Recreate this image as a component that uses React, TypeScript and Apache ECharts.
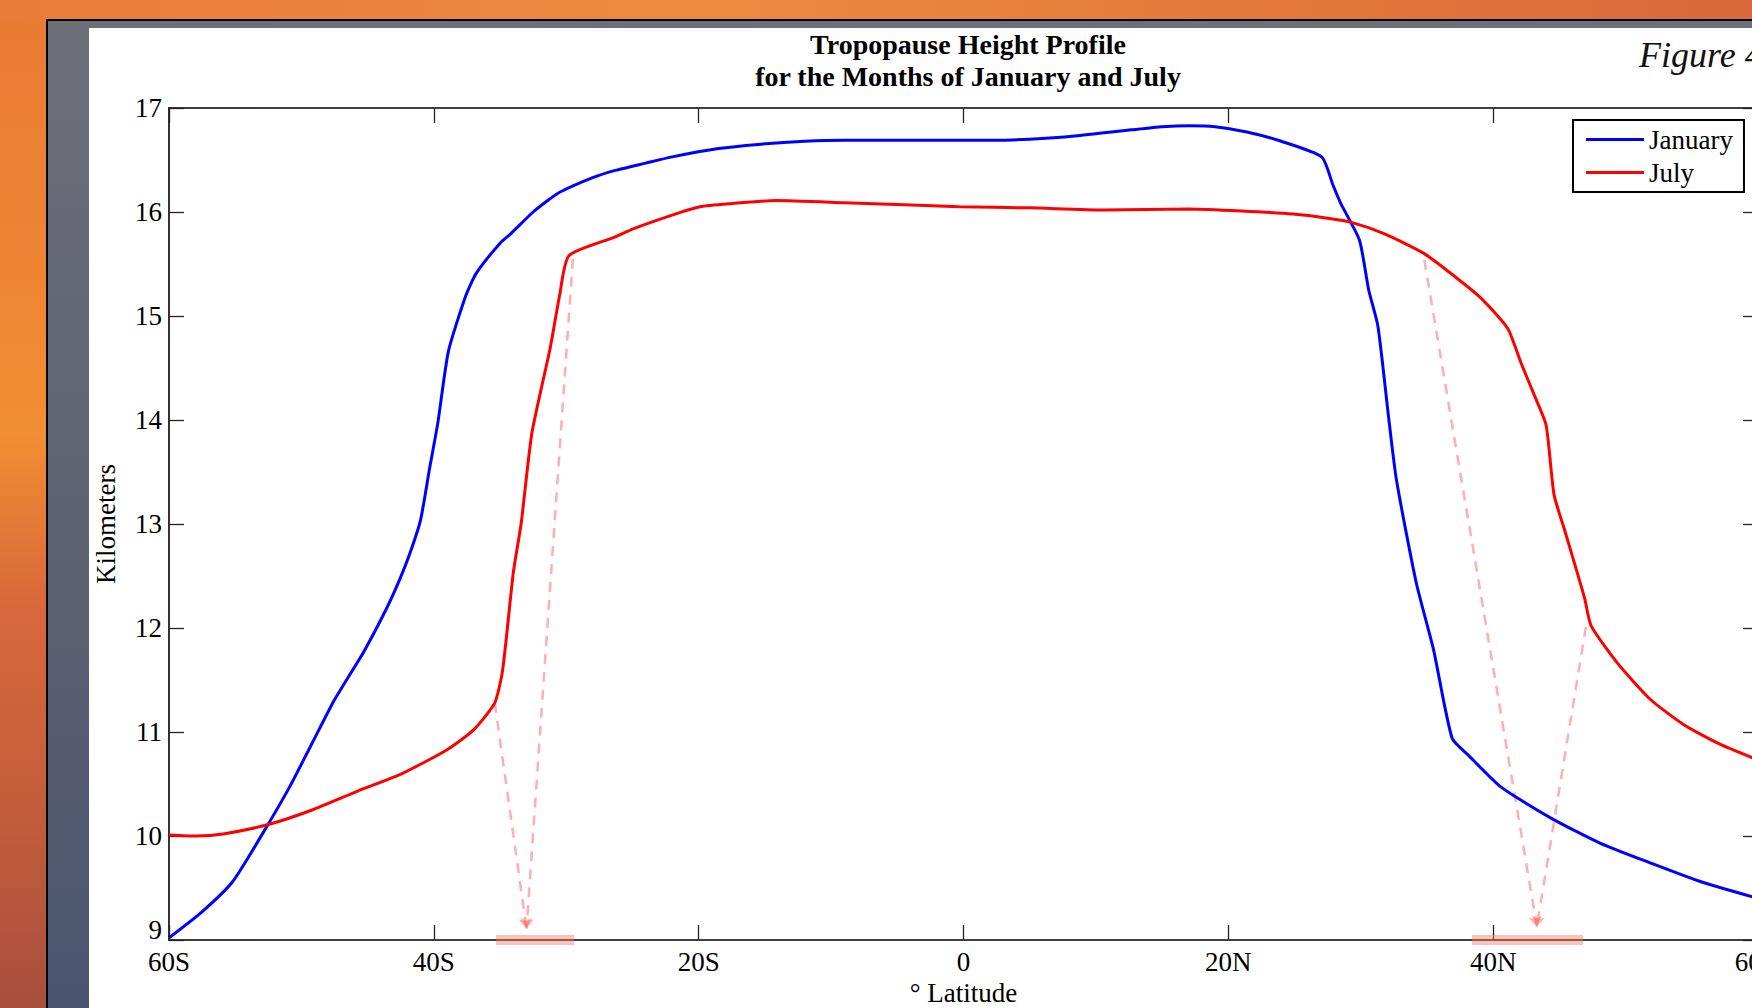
import React, { useEffect, useRef } from "react";
import * as echarts from "echarts";

// ---- Data (latitude in degrees, negative = south; height in km) ----
const janLat = [-60, -57.6, -55.2, -52.9, -50.9, -49.2, -47.5, -45.3, -43.6, -42.6, -41.8, -41.0, -40.3, -39.7, -38.9, -37.6, -36.8, -35.0, -34.2, -32.5, -31.3, -30.5, -28.0, -26.3, -24.0, -22.0, -18.5, -15.5, -12.0, -9.0, -5.0, -2.0, 2.3, 5.0, 8.4, 12.7, 15.0, 17.1, 19.0, 21.4, 24.0, 27.05, 27.9, 28.5, 29.9, 30.6, 31.3, 32.1, 32.7, 34.2, 35.5, 36.9, 38.1, 40.6, 44.4, 48.1, 51.9, 55.7, 60];
const janKm = [9.02, 9.26, 9.56, 10.03, 10.47, 10.89, 11.31, 11.77, 12.18, 12.46, 12.72, 13.04, 13.55, 13.97, 14.66, 15.19, 15.41, 15.70, 15.79, 16.0, 16.12, 16.19, 16.33, 16.40, 16.47, 16.53, 16.61, 16.65, 16.68, 16.69, 16.69, 16.69, 16.69, 16.70, 16.73, 16.79, 16.82, 16.83, 16.82, 16.77, 16.68, 16.53, 16.26, 16.08, 15.73, 15.25, 14.90, 14.03, 13.42, 12.43, 11.79, 10.94, 10.78, 10.47, 10.17, 9.93, 9.74, 9.56, 9.40];

const julLat = [-60, -57.9, -55.9, -52.5, -49.2, -45.8, -42.4, -39.0, -37.0, -35.4, -34.8, -34.0, -33.4, -32.6, -31.2, -30.5, -29.8, -26.3, -24.9, -22.0, -19.9, -17.6, -14.2, -9.0, -4.5, -0.3, 5.0, 10.6, 17.1, 21.0, 24.9, 27.5, 29.3, 31.8, 34.8, 37.1, 39.1, 41.1, 42.1, 43.2, 44.0, 44.6, 45.4, 46.9, 47.4, 49.4, 51.9, 54.4, 57.0, 60];
const julKm = [10.01, 10.0, 10.02, 10.11, 10.25, 10.43, 10.6, 10.83, 11.02, 11.28, 11.6, 12.53, 13.01, 13.87, 14.7, 15.2, 15.58, 15.76, 15.84, 15.97, 16.05, 16.08, 16.11, 16.09, 16.07, 16.05, 16.04, 16.02, 16.03, 16.01, 15.98, 15.94, 15.9, 15.79, 15.6, 15.38, 15.17, 14.88, 14.55, 14.21, 13.95, 13.28, 12.94, 12.29, 12.02, 11.66, 11.31, 11.07, 10.89, 10.73];

// dashed annotation arrows: [fromLat, fromKm] -> [toLat, toKm]
const arrowFromLat = [-35.4, -29.5, 34.8, 47.0];
const arrowFromKm = [11.28, 15.55, 15.54, 12.01];
const arrowToLat = [-33.0, -33.0, 43.3, 43.3];
const arrowToKm = [9.11, 9.11, 9.13, 9.13];

// shaded latitude bands on the axis
const bandStart = [-35.3, 38.4];
const bandEnd = [-29.4, 46.8];
const bandKm = 9;

const latTicks = [-60, -40, -20, 0, 20, 40, 60];
const latLabels = ["60S", "40S", "20S", "0", "20N", "40N", "60N"];

const FONT = '"Liberation Serif", "Times New Roman", serif';

export default function App() {
  const ref = useRef<HTMLDivElement>(null);

  useEffect(() => {
    if (!ref.current) return;
    const chart = echarts.init(ref.current, null, { renderer: "svg" });

    const janData = janLat.map((x, i) => [x, janKm[i]]);
    const julData = julLat.map((x, i) => [x, julKm[i]]);
    const arrows = arrowFromLat.map((x, i) => ({
      coords: [
        [x, arrowFromKm[i]],
        [arrowToLat[i], arrowToKm[i]],
      ],
    }));
    const bands = bandStart.map((s, i) => ({
      coords: [
        [s, bandKm],
        [bandEnd[i], bandKm],
      ],
    }));

    const fmt = (v: number) => {
      const idx = latTicks.indexOf(v);
      return idx >= 0 ? latLabels[idx] : "";
    };

    const axisLine = { show: true, onZero: false, lineStyle: { color: "#000", width: 1.6 } };
    const tick = { show: true, inside: true, length: 15, lineStyle: { color: "#222", width: 1.3 } };

    chart.setOption({
      animation: false,
      backgroundColor: "transparent",
      title: [
        {
          text: "Tropopause Height Profile\nfor the Months of January and July",
          left: 963,
          top: 23,
          textAlign: "center",
          textStyle: {
            fontFamily: FONT,
            fontWeight: "bold",
            fontSize: 28,
            lineHeight: 32,
            color: "#000",
          },
        },
        {
          text: "Figure 4",
          left: 1634,
          top: 32,
          textStyle: {
            fontFamily: FONT,
            fontStyle: "italic",
            fontWeight: "normal",
            fontSize: 36,
            color: "#111",
          },
        },
      ],
      legend: {
        data: ["January", "July"],
        orient: "vertical",
        left: 1573,
        top: 120,
        icon: "rect",
        itemWidth: 58,
        itemHeight: 3,
        itemGap: 6,
        padding: [6, 11, 6, 13],
        backgroundColor: "#fff",
        borderColor: "#000",
        borderWidth: 2,
        borderRadius: 0,
        textStyle: { fontFamily: FONT, fontSize: 27, color: "#000" },
      },
      grid: {
        left: 169,
        top: 108,
        width: 1589,
        height: 832,
        containLabel: false,
        outerBoundsMode: "none",
      },
      xAxis: [
        {
          type: "value",
          min: -60,
          max: 60,
          interval: 20,
          position: "bottom",
          name: "° Latitude",
          nameLocation: "middle",
          nameGap: 34,
          nameTextStyle: { fontFamily: FONT, fontSize: 27, color: "#000" },
          axisLine,
          axisTick: tick,
          splitLine: { show: false },
          axisLabel: {
            formatter: fmt,
            fontFamily: FONT,
            fontSize: 27,
            color: "#000",
            margin: 8,
            showMinLabel: true,
            showMaxLabel: true,
          },
        },
        {
          type: "value",
          min: -60,
          max: 60,
          interval: 20,
          position: "top",
          axisLine,
          axisTick: tick,
          splitLine: { show: false },
          axisLabel: { show: false },
        },
      ],
      yAxis: [
        {
          type: "value",
          min: 9,
          max: 17,
          interval: 1,
          position: "left",
          name: "Kilometers",
          nameLocation: "middle",
          nameGap: 50,
          nameRotate: 90,
          nameTextStyle: { fontFamily: FONT, fontSize: 27, color: "#000" },
          axisLine,
          axisTick: tick,
          splitLine: { show: false },
          axisLabel: {
            fontFamily: FONT,
            fontSize: 27,
            color: "#000",
            margin: 7,
            formatter: (v: number) => (v === 9 ? "{low|9}" : String(v)),
            rich: {
              low: { fontFamily: FONT, fontSize: 27, color: "#000", padding: [0, 0, 20, 0] },
            },
          },
        },
        {
          type: "value",
          min: 9,
          max: 17,
          interval: 1,
          position: "right",
          axisLine,
          axisTick: tick,
          splitLine: { show: false },
          axisLabel: { show: false },
        },
      ],
      series: [
        {
          name: "January",
          type: "line",
          data: janData,
          symbol: "none",
          smooth: 0.2,
          lineStyle: { color: "#0000ff", width: 3 },
          itemStyle: { color: "#0000ff" },
          z: 5,
        },
        {
          name: "July",
          type: "line",
          data: julData,
          symbol: "none",
          smooth: 0.2,
          lineStyle: { color: "#ff0000", width: 3 },
          itemStyle: { color: "#ff0000" },
          z: 5,
        },
        {
          name: "bands",
          type: "lines",
          coordinateSystem: "cartesian2d",
          clip: false,
          silent: true,
          data: bands,
          symbol: ["none", "none"],
          lineStyle: { color: "rgba(248,120,100,0.45)", width: 10, opacity: 1, curveness: 0 },
          z: 3,
        },
        {
          name: "arrows",
          type: "lines",
          coordinateSystem: "cartesian2d",
          silent: true,
          data: arrows,
          symbol: ["none", "arrow"],
          symbolSize: 10,
          lineStyle: {
            color: "rgba(255,110,110,0.55)",
            width: 2.5,
            type: [10, 8],
            opacity: 1,
            curveness: 0,
          },
          z: 4,
        },
      ],
    });

    return () => chart.dispose();
  }, []);

  return (
    <div
      style={{
        position: "fixed",
        left: 0,
        top: 0,
        width: 1752,
        height: 1008,
        overflow: "hidden",
        background:
          "linear-gradient(to bottom, #e97a34 0%, #ee8433 25%, #f28e34 43%, #d8683a 60%, #c45d3b 80%, #a84f3e 100%)",
      }}
    >
      <div
        style={{
          position: "absolute",
          left: 0,
          top: 0,
          width: 1752,
          height: 20,
          background:
            "linear-gradient(to right, #e97c38 0%, #ee8a40 40%, #e47a3a 70%, #d8693a 100%)",
        }}
      />
      <div
        style={{
          position: "absolute",
          left: 46,
          top: 19,
          right: 0,
          bottom: 0,
          borderLeft: "2px solid #000",
          borderTop: "2px solid #000",
          background: "linear-gradient(to bottom, #6d6f79 0%, #5f6272 50%, #4a5570 100%)",
        }}
      />
      <div
        style={{
          position: "absolute",
          left: 89,
          top: 28,
          right: 0,
          bottom: 0,
          background: "#fff",
        }}
      />
      <div
        ref={ref}
        style={{ position: "absolute", left: 0, top: 0, width: 1752, height: 1008 }}
      />
    </div>
  );
}
